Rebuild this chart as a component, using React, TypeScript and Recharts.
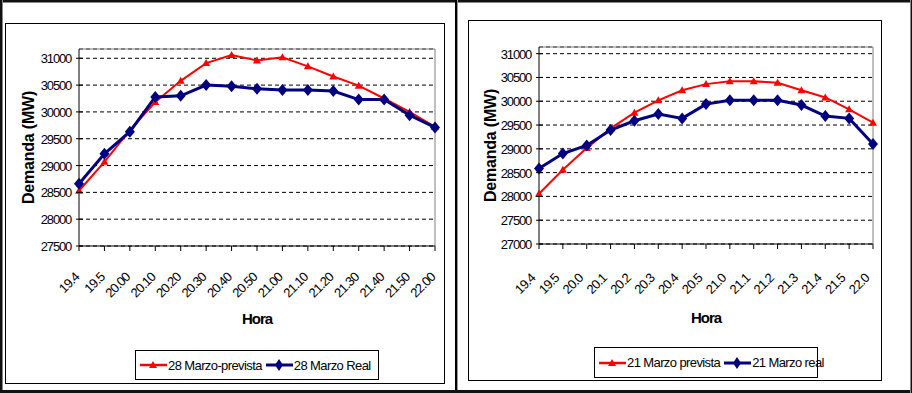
import React from 'react';
import { CartesianGrid, Line, LineChart, ReferenceLine, XAxis, YAxis } from 'recharts';

// Demanda (MW) por hora, 28 y 21 de marzo
const hours = ['19.4', '19.5', '20.00', '20.10', '20.20', '20.30', '20.40', '20.50', '21.00', '21.10', '21.20', '21.30', '21.40', '21.50', '22.00'];
// the right chart shows its hour labels cut off
const hoursShort = ['19.4', '19.5', '20.0', '20.1', '20.2', '20.3', '20.4', '20.5', '21.0', '21.1', '21.2', '21.3', '21.4', '21.5', '22.0'];

const prevista28 = [28530, 29070, 29660, 30185, 30580, 30910, 31060, 30960, 31020, 30850, 30660, 30490, 30250, 30000, 29720];
const real28 = [28660, 29220, 29630, 30280, 30300, 30500, 30480, 30430, 30410, 30410, 30390, 30230, 30230, 29940, 29710];
const prevista21 = [28055, 28560, 29015, 29430, 29760, 30020, 30230, 30360, 30420, 30420, 30390, 30230, 30080, 29830, 29550];
const real21 = [28585, 28900, 29070, 29395, 29590, 29730, 29640, 29940, 30020, 30020, 30020, 29920, 29690, 29640, 29100];

const ticks28 = [27500, 28000, 28500, 29000, 29500, 30000, 30500, 31000];
const ticks21 = [27000, 27500, 28000, 28500, 29000, 29500, 30000, 30500, 31000];

const data28 = hours.map((h, i) => ({ hora: h, prevista: prevista28[i], real: real28[i] }));
const data21 = hours.map((h, i) => ({ hora: h, prevista: prevista21[i], real: real21[i] }));

const FONT = '"Liberation Sans", Arial, sans-serif';
const RED = '#FF0000';
const NAVY = '#000080';

const triangle = (p: any) => {
  const { cx, cy, index } = p;
  if (cx == null || cy == null) return <g key={index} />;
  return <polygon key={index} points={`${cx},${cy - 4} ${cx + 4},${cy + 3} ${cx - 4},${cy + 3}`} fill={RED} />;
};

const diamond = (p: any) => {
  const { cx, cy, index } = p;
  if (cx == null || cy == null) return <g key={index} />;
  return <polygon key={index} points={`${cx},${cy - 6} ${cx + 5},${cy} ${cx},${cy + 6} ${cx - 5},${cy}`} fill={NAVY} />;
};

const YTick = (p: any) => {
  const { x, y, payload } = p;
  return (
    <g>
      <line x1={x - 3} x2={x + 4} y1={y} y2={y} stroke="#000" />
      <text x={x - 8} y={y} dy={5} textAnchor="end" fontFamily={FONT} fontSize={13} letterSpacing={-1.2} fill="#000">
        {payload.value}
      </text>
    </g>
  );
};

const makeXTick = (labels: string[], dx: number, dy: number) => (p: any) => {
  const { x, y, index } = p;
  return (
    <g transform={`translate(${x + dx}, ${y + dy}) rotate(-45)`}>
      <text x={0} y={0} textAnchor="end" fontFamily={FONT} fontSize={13} letterSpacing={-0.8} fill="#000">
        {labels[index]}
      </text>
    </g>
  );
};

const yTitle = (cx: number) => (p: any) => {
  const vb = p.viewBox || {};
  const cy = vb.y + vb.height / 2;
  return (
    <text x={cx} y={cy} transform={`rotate(-90, ${cx}, ${cy})`} textAnchor="middle" dominantBaseline="central" fontFamily={FONT} fontSize={16} fontWeight="bold" letterSpacing={-0.2} fill="#000">
      Demanda (MW)
    </text>
  );
};

type ChartProps = {
  data: Array<Record<string, unknown>>;
  ticks: number[];
  yMax: number;
  labels: string[];
  width: number;
  height: number;
  margin: { top: number; right: number; bottom: number; left: number };
  yWidth: number;
  xHeight: number;
  titleX: number;
  xdx: number;
  xdy: number;
  horaOffset: number;
};

function DemandChart(props: ChartProps) {
  const { data, ticks, yMax, labels, width, height, margin, yWidth, xHeight, titleX, xdx, xdy, horaOffset } = props;
  return (
    <LineChart width={width} height={height} data={data} margin={margin}>
      <CartesianGrid vertical={false} stroke="#000" strokeDasharray="4 3" />
      <XAxis
        dataKey="hora"
        height={xHeight}
        interval={0}
        tickSize={5}
        tickMargin={0}
        tickLine={{ stroke: '#000' }}
        axisLine={{ stroke: '#000' }}
        tick={makeXTick(labels, xdx, xdy)}
        label={{ value: 'Hora', position: 'insideTop', offset: horaOffset, fontFamily: FONT, fontSize: 15, fontWeight: 'bold', letterSpacing: -1, fill: '#000' }}
      />
      <YAxis
        type="number"
        domain={[ticks[0], yMax]}
        ticks={ticks}
        width={yWidth}
        tickSize={0}
        tickMargin={0}
        tickLine={false}
        axisLine={{ stroke: '#000' }}
        tick={YTick}
        label={yTitle(titleX)}
      />
      <ReferenceLine y={yMax} stroke="#808080" />
      <ReferenceLine x={hours[hours.length - 1]} stroke="#808080" />
      <Line type="linear" dataKey="prevista" stroke={RED} strokeWidth={2} dot={triangle} activeDot={false} isAnimationActive={false} />
      <Line type="linear" dataKey="real" stroke={NAVY} strokeWidth={3} dot={diamond} activeDot={false} isAnimationActive={false} />
    </LineChart>
  );
}

function LegendBox({ left, top, width, height, items }: { left: number; top: number; width: number; height: number; items: { label: string; color: string; shape: 'tri' | 'dia'; gap: number }[] }) {
  return (
    <div style={{ position: 'absolute', left, top, width, height, border: '1px solid #000', boxSizing: 'border-box', display: 'flex', alignItems: 'center', paddingLeft: 4, fontFamily: FONT, fontSize: 13, letterSpacing: -0.6, whiteSpace: 'nowrap' }}>
      {items.map((it) => (
        <span key={it.label} style={{ display: 'inline-flex', alignItems: 'center', marginRight: it.gap }}>
          <svg width={27} height={14} style={{ marginRight: 1 }}>
            <line x1={0} x2={27} y1={7} y2={7} stroke={it.color} strokeWidth={it.shape === 'tri' ? 2.5 : 3} />
            {it.shape === 'tri' ? (
              <polygon points="13,3 17,10 9,10" fill={it.color} />
            ) : (
              <polygon points="13,1 17,7 13,13 9,7" fill={it.color} />
            )}
          </svg>
          <span>{it.label}</span>
        </span>
      ))}
    </div>
  );
}

export default function App() {
  return (
    <div style={{ position: 'absolute', left: 0, top: 0, width: 912, height: 393, background: '#fff', overflow: 'hidden', fontFamily: FONT }}>
      {/* outer frame */}
      <div style={{ position: 'absolute', left: 0, top: 0, width: 912, height: 2, background: '#111' }} />
      <div style={{ position: 'absolute', left: 0, top: 2, width: 912, height: 1, background: '#888' }} />
      <div style={{ position: 'absolute', left: 0, top: 0, width: 2, height: 393, background: '#111' }} />
      <div style={{ position: 'absolute', left: 2, top: 0, width: 1, height: 393, background: '#888' }} />
      <div style={{ position: 'absolute', left: 455, top: 0, width: 2, height: 393, background: '#000' }} />
      <div style={{ position: 'absolute', left: 457, top: 0, width: 1, height: 393, background: '#999' }} />
      <div style={{ position: 'absolute', left: 0, top: 390, width: 912, height: 3, background: '#111' }} />
      <div style={{ position: 'absolute', left: 910, top: 0, width: 1, height: 393, background: '#888' }} />
      <div style={{ position: 'absolute', left: 911, top: 0, width: 1, height: 393, background: '#111' }} />

      {/* 28 de marzo */}
      <div style={{ position: 'absolute', left: 5, top: 23, width: 440, height: 361, border: '1px solid #000', boxSizing: 'border-box' }} />
      <div style={{ position: 'absolute', left: 5, top: 23 }}>
        <DemandChart
          data={data28}
          ticks={ticks28}
          yMax={31173}
          labels={hours}
          width={440}
          height={361}
          margin={{ top: 26, right: 10, bottom: 0, left: 0 }}
          yWidth={74}
          xHeight={138}
          titleX={23}
          xdx={1}
          xdy={27}
          horaOffset={67}
        />
      </div>
      <LegendBox
        left={135}
        top={350}
        width={244}
        height={30}
        items={[
          { label: '28 Marzo-prevista', color: RED, shape: 'tri', gap: 4 },
          { label: '28 Marzo Real', color: NAVY, shape: 'dia', gap: 0 },
        ]}
      />

      {/* 21 de marzo */}
      <div style={{ position: 'absolute', left: 468, top: 20, width: 414, height: 361, border: '1px solid #000', boxSizing: 'border-box' }} />
      <div style={{ position: 'absolute', left: 468, top: 20 }}>
        <DemandChart
          data={data21}
          ticks={ticks21}
          yMax={31140}
          labels={hoursShort}
          width={414}
          height={361}
          margin={{ top: 27, right: 9, bottom: 0, left: 0 }}
          yWidth={71}
          xHeight={137}
          titleX={22}
          xdx={-3}
          xdy={30}
          horaOffset={68}
        />
      </div>
      <LegendBox
        left={594}
        top={347}
        width={224}
        height={31}
        items={[
          { label: '21 Marzo prevista', color: RED, shape: 'tri', gap: 4 },
          { label: '21 Marzo real', color: NAVY, shape: 'dia', gap: 0 },
        ]}
      />
    </div>
  );
}
